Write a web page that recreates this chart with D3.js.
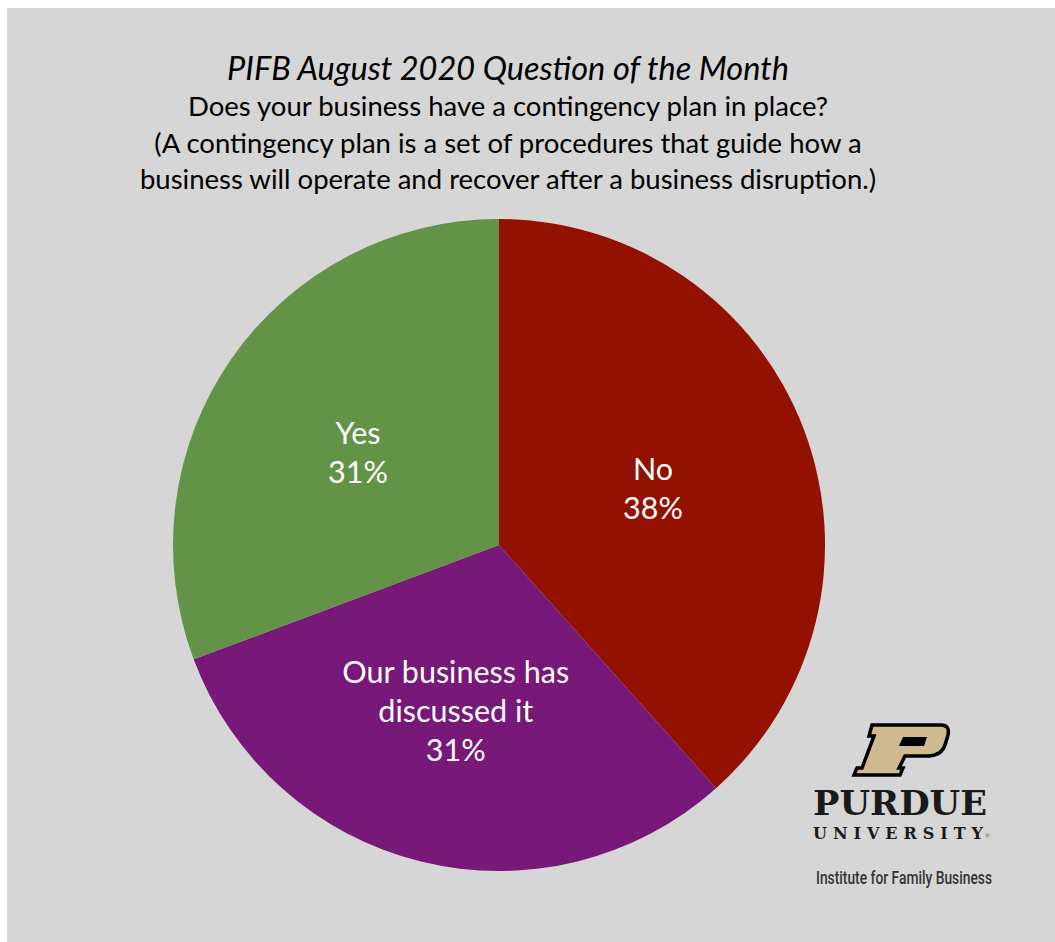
<!DOCTYPE html>
<html>
<head>
<meta charset="utf-8">
<script src="https://cdn.jsdelivr.net/npm/d3@7"></script>
<style>
  body { margin: 0; background: #ffffff; }
  svg { display: block; }
</style>
</head>
<body>
<div id="chart"></div>
<script>
// survey answers, clockwise from 12 o'clock
// (shares; labels show them rounded)
var answers = ['No', 'Our business has discussed it', 'Yes'];
var shares = [38.4, 30.9, 30.7];
var labelLines = [['No'], ['Our business has', 'discussed it'], ['Yes']];
var sliceColors = ['#921100', '#781878', '#629346'];

var titleLine = 'PIFB August 2020 Question of the Month';
var subtitleLines = [
  'Does your business have a contingency plan in place?',
  '(A contingency plan is a set of procedures that guide how a',
  'business will operate and recover after a business disruption.)'
];

var width = 1055,
    height = 942,
    cx = 499,
    cy = 545,
    radius = 326,
    font = 'Lato, "Open Sans", sans-serif';

var svg = d3.select('#chart')
  .append('svg')
  .attr('width', width)
  .attr('height', height);

// gray plot area with thin white margin on top/left
svg.append('rect')
  .attr('x', 7).attr('y', 8)
  .attr('width', width - 7).attr('height', height - 8)
  .style('fill', '#d6d6d6');

// titles
svg.append('text')
  .attr('x', 508).attr('y', 80)
  .attr('text-anchor', 'middle')
  .style('font-family', font)
  .style('font-style', 'italic')
  .style('font-size', '32.5px')
  .style('fill', '#000')
  .text(titleLine);

svg.selectAll('text.sub')
  .data(subtitleLines)
  .enter()
  .append('text')
  .attr('class', 'sub')
  .attr('x', 508)
  .attr('y', function(d, i) { return 116 + i * 36.5; })
  .attr('text-anchor', 'middle')
  .style('font-family', font)
  .style('font-size', '27.5px')
  .style('fill', '#000')
  .text(function(d) { return d; });

// pie
var pie = d3.pie().sort(null).value(function(d) { return d; });
var arc = d3.arc().innerRadius(0).outerRadius(radius);
var labelArc = d3.arc().innerRadius(168).outerRadius(168);
var pct = d3.format('.0f');

var g = svg.append('g').attr('transform', 'translate(' + cx + ',' + cy + ')');
var arcs = pie(shares);

g.selectAll('path')
  .data(arcs)
  .enter()
  .append('path')
  .attr('d', arc)
  .style('fill', function(d, i) { return sliceColors[i]; });

var lh = 39;
arcs.forEach(function(d, i) {
  var c = labelArc.centroid(d);
  var lines = labelLines[i].concat([pct(shares[i]) + '%']);
  var n = lines.length;
  g.append('text')
    .attr('text-anchor', 'middle')
    .style('font-family', font)
    .style('font-size', '30.5px')
    .style('fill', '#fff')
    .selectAll('tspan')
    .data(lines)
    .enter()
    .append('tspan')
    .attr('x', c[0] - 3)
    .attr('y', function(t, j) { return c[1] + (j - (n - 1) / 2) * lh + 14; })
    .text(function(t) { return t; });
});

// Purdue logo, bottom right
var logo = svg.append('g').attr('transform', 'translate(853,724)');
logo.append('path')
  .attr('d', 'M19,1 L88,1 Q97,1 95,11 L92,21 Q89,31 76,32 L52,32 L46,44 L50,44 L47,51 L1,51 L4,44 L9,44 L21,12 L16,12 Z')
  .style('fill', '#cfb991')
  .style('stroke', '#000')
  .style('stroke-width', 3.5)
  .style('stroke-linejoin', 'miter');
logo.append('path')
  .attr('d', 'M50,13 L74,13 L71,22 L46,22 Z')
  .style('fill', '#000');

svg.append('text')
  .attr('x', 900).attr('y', 815)
  .attr('text-anchor', 'middle')
  .style('font-family', '"DejaVu Serif", serif')
  .style('font-weight', 'bold')
  .style('font-size', '33px')
  .attr('textLength', 174)
  .attr('lengthAdjust', 'spacingAndGlyphs')
  .style('fill', '#1a1a1a')
  .text('PURDUE');

svg.append('text')
  .attr('x', 813).attr('y', 839)
  .style('font-family', '"DejaVu Serif", serif')
  .style('font-weight', 'bold')
  .style('font-size', '16px')
  .attr('textLength', 170)
  .attr('lengthAdjust', 'spacing')
  .style('fill', '#1a1a1a')
  .text('UNIVERSITY');

svg.append('text')
  .attr('x', 985).attr('y', 838)
  .style('font-family', font)
  .style('font-size', '6px')
  .style('fill', '#777')
  .text('\u00AE');

svg.append('text')
  .attr('x', 816).attr('y', 884)
  .style('font-family', 'Roboto, sans-serif')
  .style('font-weight', 500)
  .style('font-size', '17.5px')
  .attr('textLength', 176)
  .attr('lengthAdjust', 'spacingAndGlyphs')
  .style('fill', '#333')
  .text('Institute for Family Business');
</script>
</body>
</html>
